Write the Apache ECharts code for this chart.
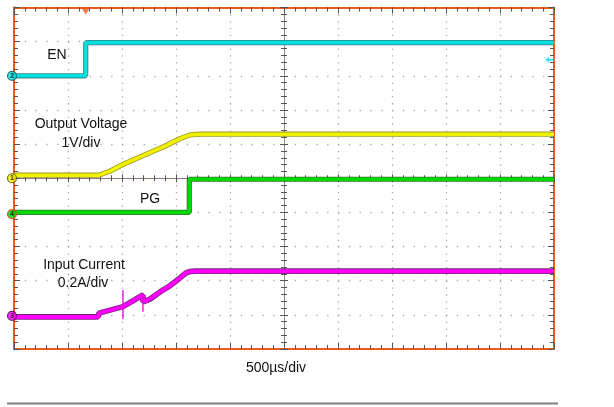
<!DOCTYPE html>
<html>
<head>
<meta charset="utf-8">
<script src="https://cdn.jsdelivr.net/npm/echarts@6/dist/echarts.min.js"></script>
<style>
html,body{margin:0;padding:0;background:#fff;}
#c{width:614px;height:407px;}
</style>
</head>
<body>
<div id="c"></div>
<script>
// Time in µs (500 µs/div, 10 div), level in screen divisions (0..10)
const timeRange = [0, 5000];
const levelRange = [0, 10];

const enTrace = [[0, 8.0], [664, 8.0], [664, 8.97], [5000, 8.97]];
const voutTrace = [[0, 5.09], [787, 5.09], [889, 5.21], [1019, 5.42], [1259, 5.75], [1398, 5.94], [1537, 6.16], [1630, 6.27], [1722, 6.29], [5000, 6.29]];
const pgTrace = [[0, 4.0], [1623, 4.0], [1623, 4.97], [5000, 4.97]];
const iinTrace = [[0, 0.94], [778, 0.94], [787, 1.05], [1009, 1.24], [1009, 1.26], [1194, 1.58], [1194, 1.38], [1259, 1.46], [1352, 1.67], [1444, 1.85], [1537, 2.08], [1593, 2.23], [1630, 2.27], [1676, 2.28], [5000, 2.28]];
const iinSpike1 = [[1009, 0.88], [1009, 1.73]];
const iinSpike2 = [[1194, 1.09], [1194, 1.65]];

const channelMarkers = [
  {name: '2', level: 8.0, fill: '#00e0e0', border: '#106060'},
  {name: '1', level: 5.0, fill: '#f0f000', border: '#505000'},
  {name: '4', level: 3.95, fill: '#00d000', border: '#e04010'},
  {name: '3', level: 0.97, fill: '#ff00ff', border: '#500050'}
];
const markerTime = -18.5;
const triggerTime = 664;
const triggerLevelMark = 8.47;

const labels = [
  {text: 'EN', x: 57, y: 55},
  {text: 'Output Voltage', x: 81, y: 124},
  {text: '1V/div', x: 81, y: 143},
  {text: 'PG', x: 150, y: 199},
  {text: 'Input Current', x: 84, y: 265},
  {text: '0.2A/div', x: 83, y: 283},
  {text: '500\u00b5s/div', x: 276, y: 368}
];

const ORANGE = '#ec5a1c';
const TICK = '#555';
const GRID = {left: 14, top: 7.5, width: 540, height: 341.5};

function borderX(pos) {
  return {
    type: 'value', position: pos, min: timeRange[0], max: timeRange[1], interval: 500,
    axisLine: {show: true, onZero: false, lineStyle: {color: ORANGE, width: 2}},
    axisTick: {show: true, inside: true, length: 6, lineStyle: {color: TICK, width: 1}},
    minorTick: {show: true, splitNumber: 5, length: 4, lineStyle: {color: TICK, width: 1}},
    axisLabel: {show: false},
    splitLine: {show: pos === 'bottom', lineStyle: {color: '#a8a8a8', width: 1.3, type: [1.3, 5.53]}}
  };
}
function borderY(pos) {
  return {
    type: 'value', position: pos, min: levelRange[0], max: levelRange[1], interval: 1,
    axisLine: {show: true, onZero: false, lineStyle: {color: ORANGE, width: 2}},
    axisTick: {show: true, inside: true, length: 6, lineStyle: {color: TICK, width: 1}},
    minorTick: {show: true, splitNumber: 5, length: 4, lineStyle: {color: TICK, width: 1}},
    axisLabel: {show: false},
    splitLine: {show: pos === 'left', lineStyle: {color: '#a8a8a8', width: 1.3, type: [1.3, 9.5]}}
  };
}
function centerX(inside) {
  return {
    type: 'value', position: 'bottom', offset: -GRID.height / 2, min: timeRange[0], max: timeRange[1], interval: 500,
    axisLine: {show: true, onZero: false, lineStyle: {color: '#8a7a70', width: 1}},
    axisTick: {show: true, inside: inside, length: 4, lineStyle: {color: TICK, width: 1}},
    minorTick: {show: true, splitNumber: 5, length: 3, lineStyle: {color: TICK, width: 1}},
    axisLabel: {show: false}, splitLine: {show: false}
  };
}
function centerY(inside) {
  return {
    type: 'value', position: 'left', offset: -GRID.width / 2, min: levelRange[0], max: levelRange[1], interval: 1,
    axisLine: {show: true, onZero: false, lineStyle: {color: '#8a8a8a', width: 1}},
    axisTick: {show: true, inside: inside, length: 4, lineStyle: {color: TICK, width: 1}},
    minorTick: {show: true, splitNumber: 5, length: 3, lineStyle: {color: TICK, width: 1}},
    axisLabel: {show: false}, splitLine: {show: false}
  };
}

function trace(data, color, edge, width) {
  return [
    {type: 'line', data: data, showSymbol: false, silent: true, animation: false, z: 3,
     lineStyle: {color: edge, width: width + 1.6, opacity: 0.85}},
    {type: 'line', data: data, showSymbol: false, silent: true, animation: false, z: 4,
     lineStyle: {color: color, width: width}}
  ];
}

const series = [].concat(
  trace(enTrace, '#00e0e0', '#1a6a6a', 3.6),
  trace(voutTrace, '#f0f000', '#8a8a00', 3.6),
  trace(pgTrace, '#00d800', '#106010', 3.6),
  trace(iinTrace, '#ff00ff', '#600060', 4),
  [
    {type: 'line', data: iinSpike1, showSymbol: false, silent: true, animation: false, z: 4, lineStyle: {color: '#e000e0', width: 1.3}},
    {type: 'line', data: iinSpike2, showSymbol: false, silent: true, animation: false, z: 4, lineStyle: {color: '#e000e0', width: 1.3}},
    {type: 'scatter', clip: false, silent: true, animation: false, z: 6,
     data: channelMarkers.map(m => ({
       value: [markerTime, m.level], name: m.name,
       itemStyle: {color: m.fill, borderColor: m.border, borderWidth: 1.2}
     })),
     symbol: 'circle', symbolSize: 9,
     label: {show: true, position: 'inside', formatter: p => p.name, fontSize: 7, fontWeight: 'bold', color: '#000', fontFamily: 'Liberation Sans'}
    },
    {type: 'scatter', clip: false, silent: true, animation: false, z: 6,
     data: [[triggerTime, 9.9]], symbol: 'triangle', symbolRotate: 180, symbolSize: [9, 7],
     itemStyle: {color: ORANGE}},
    {type: 'scatter', clip: false, silent: true, animation: false, z: 6,
     data: [[4960, triggerLevelMark]], symbol: 'path://M0,5 L6,0 L6,3.5 L14,3.5 L14,6.5 L6,6.5 L6,10 Z', symbolSize: [9, 6],
     itemStyle: {color: '#00e8e8'}}
  ]
);

const chart = echarts.init(document.getElementById('c'), null, {renderer: 'canvas'});
chart.setOption({
  backgroundColor: '#fff',
  animation: false,
  grid: GRID,
  xAxis: [borderX('bottom'), borderX('top'), centerX(true), centerX(false)],
  yAxis: [borderY('left'), borderY('right'), centerY(true), centerY(false)],
  series: series,
  graphic: labels.map(l => ({
    type: 'text', x: l.x, y: l.y, z: 10,
    style: {text: l.text, fill: '#111', font: '14px "Liberation Sans", Arial, sans-serif', textAlign: 'center', textVerticalAlign: 'middle'}
  })).concat([
    {type: 'line', z: 10, shape: {x1: 7, y1: 403.5, x2: 558, y2: 403.5}, style: {stroke: '#808080', lineWidth: 2}}
  ])
});
</script>
</body>
</html>
